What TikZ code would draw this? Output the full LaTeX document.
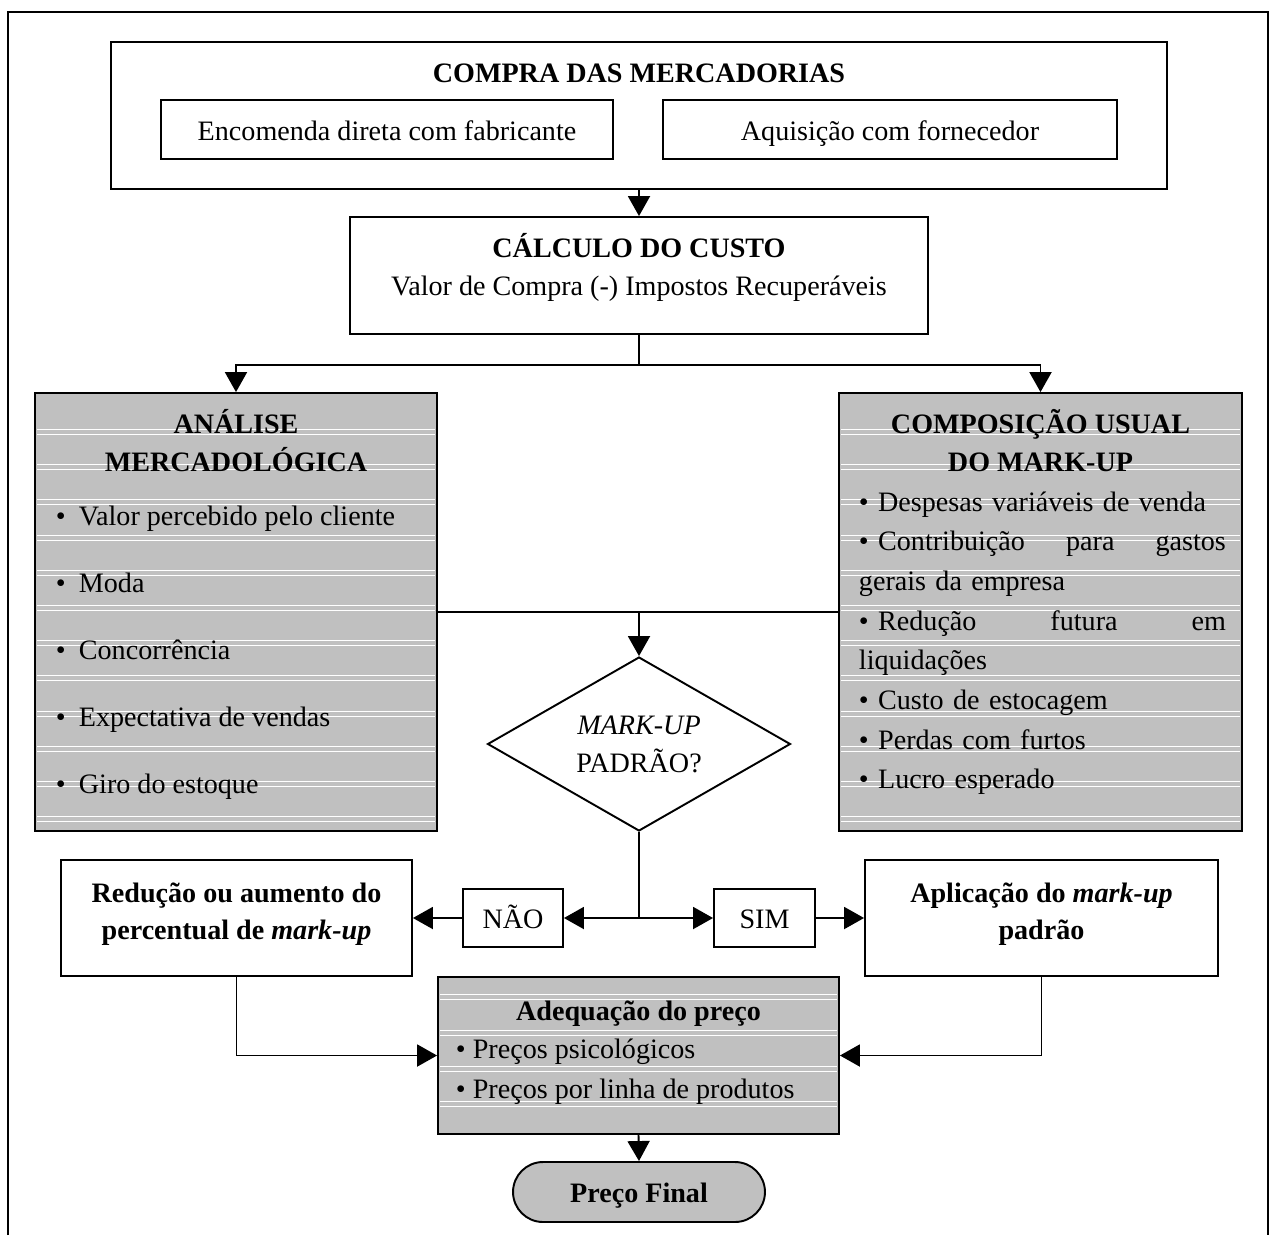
\documentclass[tikz,border=0pt]{standalone}
\usepackage{fontspec}
\setmainfont{Liberation Serif}
\usetikzlibrary{shapes.geometric,arrows.meta,positioning}

\definecolor{boxgray}{RGB}{192,192,192}
\newcommand{\fsize}{\fontsize{16}{21.6}\selectfont}
\newcommand{\mdot}{\makebox[0.46cm][l]{\textbullet}}

\begin{document}
\begin{tikzpicture}[x=0.02cm, y=-0.02cm, line width=1.1pt, font=\fsize,
    box/.style={rectangle, draw, inner sep=0pt, align=center},
    graybox/.style={box, fill=boxgray},
    oneline/.style={text height=12pt, text depth=0pt},
    txt/.style={inner sep=0pt, align=center},
    hd/.style={txt, font=\fsize\bfseries},
    arr/.style={-{Triangle[length=0.4cm, width=0.44cm]}},
    stripe/.style={draw=white, line width=0.6pt}]
    \useasboundingbox (0,0) rectangle (1272,1235);
    \draw (8,1235) -- (8,12) -- (1268,12) -- (1268,1235);

    % compra das mercadorias
    \node (compra) [box, minimum width=21.12cm, minimum height=2.94cm] at (639,115.5) {};
    \node (compra-t) [hd, anchor=base] at (639,82) {COMPRA DAS MERCADORIAS};
    \node (fabr) [box, oneline, minimum width=9.04cm, minimum height=1.18cm] at (387,129.5) {Encomenda direta com fabricante};
    \node (forn) [box, oneline, minimum width=9.08cm, minimum height=1.18cm] at (890,129.5) {Aquisição com fornecedor};

    % custo
    \node (calc) [box, minimum width=11.58cm, minimum height=2.34cm] at (639,275.5) {};
    \node (calc-t) [txt, anchor=base] at (639,295) {\textbf{CÁLCULO DO CUSTO}\\Valor de Compra (-) Impostos Recuperáveis};
    \draw [arr] (compra.south) -- (calc.north);

    % analise e composicao
    \node (anal) [graybox, minimum width=8.04cm, minimum height=8.76cm] at (236,612) {};
    \node (comp) [graybox, minimum width=8.06cm, minimum height=8.76cm] at (1040.5,612) {};
    \foreach \sy in {432,467,502,538,573,608,643,678,714,749,784,819} {
        \draw [stripe] (37,{\sy-2.5}) -- (435,{\sy-2.5}) (37,{\sy+2.5}) -- (435,{\sy+2.5});
        \draw [stripe] (841,{\sy-2.5}) -- (1240,{\sy-2.5}) (841,{\sy+2.5}) -- (1240,{\sy+2.5});
    }
    \node (anal-t) [hd, anchor=base] at (236,471) {ANÁLISE\\MERCADOLÓGICA};
    \node (anal-l) [txt, align=left, anchor=base west, font=\fontsize{16}{38.1}\selectfont] at (55,793)
        {\mdot Valor percebido pelo cliente\\ \mdot Moda\\ \mdot Concorrência\\ \mdot Expectativa de vendas\\ \mdot Giro do estoque};
    \node (comp-t) [hd, anchor=base] at (1040.5,471) {COMPOSIÇÃO USUAL\\DO MARK-UP};
    \node (comp-l) [txt, align=left, text width=7.34cm, anchor=base west, font=\fontsize{16}{22.6}\selectfont] at (858,511)
        {\textbullet\ Despesas variáveis de venda\\
         \textbullet\ Contribuição\hfill para\hfill gastos\\
         gerais da empresa\\
         \textbullet\ Redução\hfill futura\hfill em\\
         liquidações\\
         \textbullet\ Custo de estocagem\\
         \textbullet\ Perdas com furtos\\
         \textbullet\ Lucro esperado};

    \coordinate (split) at (639,365);
    \draw (calc.south) -- (split);
    \draw [arr] (split) -| (anal.north);
    \draw [arr] (split) -| (comp.north);

    % decisao
    \node (dec) [diamond, draw, aspect=1.74, minimum width=6.06cm, minimum height=3.48cm, inner sep=0pt, align=center] at (639,744) {\textit{MARK-UP}\\PADRÃO?};
    \draw (anal.east) -- (comp.west);
    \draw [arr] (anal.east -| dec.north) -- (dec.north);

    \node (nao) [box, oneline, minimum width=2cm, minimum height=1.16cm] at (513,918) {NÃO};
    \node (sim) [box, oneline, minimum width=2.02cm, minimum height=1.16cm] at (764.5,918) {SIM};
    \node (red) [box, text depth=8pt, font=\fontsize{16}{21}\selectfont\bfseries, minimum width=7.02cm, minimum height=2.32cm] at (236.5,918) {Redução ou aumento do\\percentual de \textit{mark-up}};
    \node (apl) [box, text depth=8pt, font=\fontsize{16}{21}\selectfont\bfseries, minimum width=7.06cm, minimum height=2.32cm] at (1041.5,918) {Aplicação do \textit{mark-up}\\padrão};
    \coordinate (junc) at (639,918);
    \draw (dec.south) -- (junc);
    \draw [arr] (junc) -- (nao.east);
    \draw [arr] (junc) -- (sim.west);
    \draw [arr] (nao.west) -- (red.east);
    \draw [arr] (sim.east) -- (apl.west);

    % adequacao do preco
    \node (adeq) [graybox, minimum width=8.02cm, minimum height=3.14cm] at (638.5,1055.5) {};
    \foreach \sy in {997,1033,1069,1104} {
        \draw [stripe] (440,{\sy-2.5}) -- (837,{\sy-2.5}) (440,{\sy+2.5}) -- (837,{\sy+2.5});
    }
    \node (adeq-t) [hd, anchor=base] at (638.5,1020) {Adequação do preço};
    \node (adeq-l) [txt, align=left, anchor=base west, font=\fontsize{16}{22.7}\selectfont] at (455,1098)
        {\textbullet\ Preços psicológicos\\ \textbullet\ Preços por linha de produtos};
    \draw [arr] (red.south) |- (adeq.west);
    \draw [arr] (apl.south) |- (adeq.east);

    \node (final) [box, oneline, fill=boxgray, rounded corners=0.6cm, font=\fsize\bfseries, minimum width=5.04cm, minimum height=1.2cm] at (639,1192) {Preço Final};
    \draw [arr] (adeq.south) -- (final.north);
\end{tikzpicture}
\end{document}
